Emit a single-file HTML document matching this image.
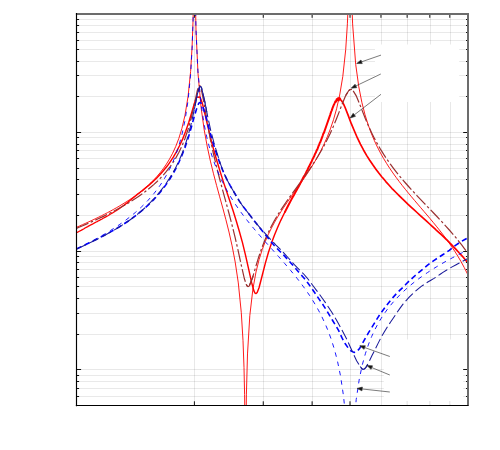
<!DOCTYPE html>
<html><head><meta charset="utf-8"><title>FRF</title>
<style>
html,body{margin:0;padding:0;background:#fff;}
body{width:500px;height:450px;overflow:hidden;font-family:"Liberation Sans",sans-serif;}
svg{display:block;}
</style></head><body>
<svg width="500" height="450" viewBox="0 0 500 450">
<rect x="0" y="0" width="500" height="450" fill="#fff"/>
<defs><clipPath id="c"><rect x="76.5" y="14.0" width="391.5" height="391.5"/></clipPath></defs>
<g stroke="rgba(0,0,0,0.09)" stroke-width="1" fill="none">
<line x1="194.50" y1="14.0" x2="194.50" y2="405.5"/>
<line x1="263.50" y1="14.0" x2="263.50" y2="405.5"/>
<line x1="312.50" y1="14.0" x2="312.50" y2="405.5"/>
<line x1="350.50" y1="14.0" x2="350.50" y2="405.5"/>
<line x1="381.50" y1="14.0" x2="381.50" y2="405.5"/>
<line x1="407.50" y1="14.0" x2="407.50" y2="405.5"/>
<line x1="430.50" y1="14.0" x2="430.50" y2="405.5"/>
<line x1="450.50" y1="14.0" x2="450.50" y2="405.5"/>
<line x1="76.5" y1="19.50" x2="468.0" y2="19.50" stroke="rgba(0,0,0,0.085)"/>
<line x1="76.5" y1="25.50" x2="468.0" y2="25.50" stroke="rgba(0,0,0,0.085)"/>
<line x1="76.5" y1="32.50" x2="468.0" y2="32.50" stroke="rgba(0,0,0,0.085)"/>
<line x1="76.5" y1="40.50" x2="468.0" y2="40.50" stroke="rgba(0,0,0,0.085)"/>
<line x1="76.5" y1="49.50" x2="468.0" y2="49.50" stroke="rgba(0,0,0,0.085)"/>
<line x1="76.5" y1="61.50" x2="468.0" y2="61.50" stroke="rgba(0,0,0,0.085)"/>
<line x1="76.5" y1="75.50" x2="468.0" y2="75.50" stroke="rgba(0,0,0,0.085)"/>
<line x1="76.5" y1="96.50" x2="468.0" y2="96.50" stroke="rgba(0,0,0,0.085)"/>
<line x1="76.5" y1="132.50" x2="468.0" y2="132.50"/>
<line x1="76.5" y1="137.50" x2="468.0" y2="137.50" stroke="rgba(0,0,0,0.085)"/>
<line x1="76.5" y1="144.50" x2="468.0" y2="144.50" stroke="rgba(0,0,0,0.085)"/>
<line x1="76.5" y1="150.50" x2="468.0" y2="150.50" stroke="rgba(0,0,0,0.085)"/>
<line x1="76.5" y1="158.50" x2="468.0" y2="158.50" stroke="rgba(0,0,0,0.085)"/>
<line x1="76.5" y1="168.50" x2="468.0" y2="168.50" stroke="rgba(0,0,0,0.085)"/>
<line x1="76.5" y1="179.50" x2="468.0" y2="179.50" stroke="rgba(0,0,0,0.085)"/>
<line x1="76.5" y1="194.50" x2="468.0" y2="194.50" stroke="rgba(0,0,0,0.085)"/>
<line x1="76.5" y1="215.50" x2="468.0" y2="215.50" stroke="rgba(0,0,0,0.085)"/>
<line x1="76.5" y1="251.50" x2="468.0" y2="251.50"/>
<line x1="76.5" y1="256.50" x2="468.0" y2="256.50" stroke="rgba(0,0,0,0.085)"/>
<line x1="76.5" y1="262.50" x2="468.0" y2="262.50" stroke="rgba(0,0,0,0.085)"/>
<line x1="76.5" y1="269.50" x2="468.0" y2="269.50" stroke="rgba(0,0,0,0.085)"/>
<line x1="76.5" y1="277.50" x2="468.0" y2="277.50" stroke="rgba(0,0,0,0.085)"/>
<line x1="76.5" y1="286.50" x2="468.0" y2="286.50" stroke="rgba(0,0,0,0.085)"/>
<line x1="76.5" y1="298.50" x2="468.0" y2="298.50" stroke="rgba(0,0,0,0.085)"/>
<line x1="76.5" y1="313.50" x2="468.0" y2="313.50" stroke="rgba(0,0,0,0.085)"/>
<line x1="76.5" y1="334.50" x2="468.0" y2="334.50" stroke="rgba(0,0,0,0.085)"/>
<line x1="76.5" y1="369.50" x2="468.0" y2="369.50"/>
<line x1="76.5" y1="375.50" x2="468.0" y2="375.50" stroke="rgba(0,0,0,0.085)"/>
<line x1="76.5" y1="381.50" x2="468.0" y2="381.50" stroke="rgba(0,0,0,0.085)"/>
<line x1="76.5" y1="388.50" x2="468.0" y2="388.50" stroke="rgba(0,0,0,0.085)"/>
<line x1="76.5" y1="396.50" x2="468.0" y2="396.50" stroke="rgba(0,0,0,0.085)"/>
</g>
<rect x="375" y="44.5" width="84.19999999999999" height="57.5" fill="#fff"/>
<rect x="383.8" y="339.5" width="79.39999999999998" height="65.0" fill="#fff"/>
<g clip-path="url(#c)" fill="none" stroke-linejoin="round">
<path d="M76.50,227.29 L79.60,225.95 L82.70,224.58 L85.80,223.19 L88.90,221.78 L92.00,220.34 L95.10,218.87 L98.20,217.37 L101.30,215.84 L104.40,214.27 L107.50,212.66 L110.60,211.01 L113.70,209.31 L116.80,207.56 L119.90,205.76 L123.00,203.89 L126.10,201.95 L129.20,199.94 L132.30,197.84 L135.40,195.65 L138.50,193.35 L141.60,190.94 L144.70,188.38 L147.80,185.66 L150.90,182.77 L154.00,179.66 L157.10,176.29 L160.20,172.63 L163.30,168.60 L166.40,164.12 L169.50,159.08 L172.60,153.31 L175.70,146.57 L178.80,138.49 L181.90,128.43 L185.00,115.22 L188.10,96.20 L190.60,71.55 L192.10,46.58 L193.00,21.59 L193.60,-6.80 L193.70,-13.60 L193.80,-16.00 L195.00,-16.00 L195.10,-13.11 L196.00,30.20 L198.00,73.41 L201.10,107.74 L204.20,129.89 L207.30,146.88 L210.40,161.12 L213.50,173.77 L216.60,185.52 L219.70,196.83 L222.80,208.09 L225.90,219.68 L229.00,232.05 L232.10,245.83 L235.20,262.08 L238.30,282.90 L241.30,312.73 L243.00,340.58 L244.00,367.62 L244.60,394.53 L245.10,435.50 L245.80,435.50 L245.90,434.96 L246.40,394.20 L247.50,353.93 L249.80,315.67 L252.90,288.97 L256.00,271.99 L259.10,259.53 L262.20,249.63 L265.30,241.39 L268.40,234.26 L271.50,227.93 L274.60,222.19 L277.70,216.88 L280.80,211.89 L283.90,207.15 L287.00,202.58 L290.10,198.12 L293.20,193.74 L296.30,189.38 L299.40,185.01 L302.50,180.59 L305.60,176.07 L308.70,171.41 L311.80,166.56 L314.90,161.46 L318.00,156.04 L321.10,150.22 L324.20,143.87 L327.30,136.84 L330.40,128.90 L333.50,119.72 L336.60,108.75 L339.70,95.00 L342.80,76.40 L345.70,49.74 L347.40,23.77 L348.50,-4.63 L348.80,-16.00 L351.10,-16.00 L351.20,-15.92 L352.60,23.88 L355.70,64.36 L358.80,86.85 L361.90,102.56 L365.00,114.70 L368.10,124.63 L371.20,133.08 L374.30,140.47 L377.40,147.06 L380.50,153.03 L383.60,158.52 L386.70,163.62 L389.80,168.41 L392.90,172.94 L396.00,177.26 L399.10,181.40 L402.20,185.41 L405.30,189.29 L408.40,193.09 L411.50,196.81 L414.60,200.49 L417.70,204.13 L420.80,207.75 L423.90,211.37 L427.00,215.00 L430.10,218.67 L433.20,222.38 L436.30,226.16 L439.40,230.02 L442.50,233.99 L445.60,238.09 L448.70,242.35 L451.80,246.80 L454.90,251.48 L458.00,256.44 L461.10,261.73 L464.20,267.43 L467.30,273.65 L468.00,275.14" stroke="#ff0000" stroke-width="0.9"/>
<path d="M76.50,232.55 L78.30,231.78 L81.10,230.38 L84.00,228.78 L84.60,228.30 L87.70,226.58 L88.80,225.92 L89.30,225.78 L90.30,225.14 L92.40,224.18 L93.50,223.42 L94.10,223.16 L96.20,222.02 L97.10,221.60 L98.40,220.81 L98.90,220.67 L100.20,219.95 L102.10,218.96 L102.70,218.55 L105.80,216.89 L107.90,215.72 L111.00,213.79 L111.50,213.43 L112.10,213.21 L115.20,211.22 L115.70,210.97 L118.80,208.94 L121.90,206.80 L125.00,204.54" stroke="#ff0000" stroke-width="1.3" stroke-linecap="round"/>
<path d="M125.00,204.54 L128.10,202.03 L131.20,199.44 L132.70,198.19 L135.80,195.69 L137.60,194.16 L138.50,193.62 L141.10,191.44 L142.20,190.83 L145.30,188.13 L148.40,185.69 L151.50,182.89 L154.60,179.98 L156.50,178.15 L159.60,175.09 L162.70,171.58 L165.80,167.76 L167.40,165.79 L170.50,161.29 L173.30,157.12 L176.40,151.87 L179.50,145.75 L182.60,139.12 L185.70,131.29 L188.80,122.27 L191.90,112.07 L195.00,101.48 L196.50,97.61 L196.90,97.15 L197.90,97.13 L198.40,97.22 L199.20,96.97 L199.60,97.05 L200.20,97.53 L202.10,102.44 L205.20,115.10 L208.30,128.46 L211.40,141.25 L214.50,152.74 L217.60,163.29 L220.70,173.34 L223.80,183.10 L226.90,192.31 L230.00,201.56 L233.10,210.85 L236.20,220.80 L239.30,231.19 L242.40,242.40 L245.50,255.05 L248.60,268.94 L251.70,282.92 L254.00,291.20 L255.00,293.03 L255.40,293.38 L255.90,293.50 L256.60,293.15 L257.30,292.22 L259.10,287.55 L262.20,275.51 L265.30,263.36 L268.40,252.50 L271.50,243.12 L274.60,234.73 L277.70,227.27 L280.80,220.32 L283.90,213.97 L285.00,211.83" stroke="#ff0000" stroke-width="1.45" stroke-linecap="round"/>
<path d="M285.00,211.83 L288.10,205.68 L291.20,199.87 L292.30,197.83 L294.00,194.89 L297.10,189.19 L297.60,188.18 L298.00,187.76 L301.10,181.71 L302.30,179.56 L304.10,176.05 L304.70,175.31 L305.30,174.06 L305.90,173.19 L306.60,171.27 L307.70,169.67 L308.40,167.66 L310.00,164.81 L310.70,163.17 L311.90,160.90 L312.50,159.25 L313.10,158.36 L313.70,157.05 L314.30,156.05 L314.90,154.16 L315.40,153.30 L316.10,151.97 L316.70,150.10 L316.80,149.99 L317.00,149.90 L317.50,149.03 L318.60,145.82 L319.10,144.98 L319.70,143.00 L320.30,142.18 L322.80,135.30 L323.30,133.69 L323.90,132.87 L327.00,124.01 L330.10,115.10 L331.20,111.61 L331.70,110.59 L332.60,107.87 L333.90,104.70 L334.40,103.70 L334.90,102.63 L335.30,101.55 L335.40,101.51 L335.80,101.73 L335.90,101.83 L336.40,99.97 L336.50,99.41 L337.10,98.87 L337.40,99.48 L337.70,100.30 L338.30,98.14 L338.50,98.92" stroke="#ff0000" stroke-width="2.0" stroke-linecap="round"/>
<path d="M338.50,98.92 L338.90,100.51 L339.50,97.89 L339.90,98.30 L340.00,98.34 L340.60,99.65 L340.90,100.17 L341.20,100.47 L341.30,100.46 L341.70,100.91 L342.40,101.88 L343.70,104.39 L345.00,107.27 L348.10,115.11 L351.20,123.43 L354.30,130.77 L357.40,137.98 L360.40,144.14 L363.50,149.97 L366.60,155.36 L369.70,160.21 L372.80,164.83 L375.90,169.15 L379.00,173.30 L382.10,177.25 L382.70,177.82 L385.80,181.57 L388.90,185.04 L392.00,188.55 L392.90,189.39 L396.00,192.50 L399.10,195.59 L402.20,198.68 L405.30,201.63 L408.10,204.41 L410.80,206.88 L413.90,209.64 L417.00,212.50 L420.10,215.32 L423.20,218.16 L426.30,220.88 L429.40,223.75 L432.50,226.62 L435.30,229.15 L435.70,229.61 L436.80,230.53 L439.90,233.47 L441.60,234.99 L444.70,237.98 L445.60,238.83 L446.80,239.92 L446.90,239.96 L450.00,243.20 L450.50,243.59 L453.60,246.86 L456.00,249.36 L459.10,252.79 L462.20,256.07 L465.30,259.69 L468.00,262.92" stroke="#ff0000" stroke-width="1.7" stroke-linecap="round"/>
<path d="M76.50,228.35 L79.60,227.05 L82.70,225.73 L85.80,224.39 L88.90,223.03 L92.00,221.65 L95.10,220.24 L98.20,218.81 L101.30,217.35 L104.40,215.85 L107.50,214.33 L110.60,212.76 L113.70,211.16 L116.80,209.52 L119.90,207.83 L123.00,206.09 L126.10,204.30 L129.20,202.44 L132.30,200.51 L135.40,198.51 L138.50,196.43 L141.60,194.26 L144.70,191.97 L147.80,189.57 L150.90,187.04 L154.00,184.35 L157.10,181.48 L160.20,178.40 L163.30,175.07 L166.40,171.45 L169.50,167.48 L172.60,163.08 L175.70,158.15 L178.80,152.55 L181.90,146.07 L185.00,138.44 L188.10,129.27 L191.20,118.02 L194.30,104.34 L197.40,90.19 L198.60,86.58 L199.20,85.70 L199.50,85.53 L199.80,85.57 L200.20,85.94 L201.00,87.74 L204.10,103.45 L207.20,122.21 L210.30,138.95 L213.40,153.57 L216.50,166.65 L219.60,178.75 L222.70,190.29 L225.80,201.61 L228.90,213.03 L232.00,224.86 L235.10,237.40 L238.20,250.91 L241.30,265.25 L244.40,278.76 L246.40,284.76 L247.40,286.25 L248.00,286.58 L248.60,286.48 L249.50,285.57 L252.60,277.58 L255.70,266.90 L258.80,256.70 L261.90,247.69 L265.00,239.80 L268.10,232.81 L271.20,226.53 L274.30,220.80 L277.40,215.50 L280.50,210.53 L283.60,205.81 L286.70,201.28 L289.80,196.87 L292.90,192.56 L296.00,188.29 L299.10,184.04 L302.20,179.76 L305.30,175.41 L308.40,170.98 L311.50,166.41 L314.60,161.67 L317.70,156.72 L320.80,151.50 L323.90,145.95 L327.00,140.02 L330.10,133.64 L333.20,126.74 L336.30,119.29 L339.40,111.35 L342.50,103.23 L345.60,95.77 L348.70,90.60 L350.20,89.52 L351.40,89.47 L353.00,90.53 L356.10,95.58 L359.20,102.91 L362.30,110.89 L365.40,118.68 L368.50,125.97 L371.60,132.70 L374.70,138.90 L377.80,144.62 L380.90,149.93 L384.00,154.88 L387.10,159.54 L390.20,163.95 L393.30,168.13 L396.40,172.13 L399.50,175.96 L402.60,179.67 L405.70,183.26 L408.80,186.75 L411.90,190.17 L415.00,193.52 L418.10,196.82 L421.20,200.09 L424.30,203.33 L427.40,206.56 L430.50,209.78 L433.60,213.02 L436.70,216.27 L439.80,219.56 L442.90,222.90 L446.00,226.29 L449.10,229.76 L452.20,233.32 L455.30,236.98 L458.40,240.77 L461.50,244.71 L464.60,248.83 L467.70,253.16 L468.00,253.59" stroke="#993030" stroke-width="1.2" stroke-dasharray="13 2.5 2.5 2.5" stroke-dashoffset="0"/>
<path d="M246.30,284.54 L247.30,286.16 L247.90,286.56 L248.50,286.52 L249.30,285.84 L252.40,278.23 L253.20,275.57 M345.80,95.35 L348.80,90.50 L350.30,89.49 L351.50,89.50 L351.90,89.67" stroke="#993030" stroke-width="1.2"/>
<path d="M76.50,248.94 L79.60,247.44 L82.70,245.91 L85.80,244.35 L88.90,242.75 L92.00,241.12 L95.10,239.45 L98.20,237.74 L101.30,235.99 L104.40,234.19 L107.50,232.33 L110.60,230.42 L113.70,228.45 L116.80,226.42 L119.90,224.31 L123.00,222.12 L126.10,219.85 L129.20,217.48 L132.30,215.01 L135.40,212.42 L138.50,209.70 L141.60,206.83 L144.70,203.80 L147.80,200.58 L150.90,197.15 L154.00,193.47 L157.10,189.49 L160.20,185.18 L163.30,180.45 L166.40,175.23 L169.50,169.38 L172.60,162.75 L175.70,155.08 L178.80,145.99 L181.90,134.85 L185.00,120.45 L188.10,100.15 L190.60,74.37 L192.10,48.69 L193.10,19.45 L193.80,-16.00 L195.00,-16.00 L195.10,-12.53 L196.00,30.29 L197.90,70.90 L201.00,104.00 L204.10,124.26 L207.20,139.00 L210.30,150.64 L213.40,160.31 L216.50,168.62 L219.60,175.94 L222.70,182.49 L225.80,188.46 L228.90,193.95 L232.00,199.06 L235.10,203.86 L238.20,208.39 L241.30,212.70 L244.40,216.83 L247.50,220.81 L250.60,224.66 L253.70,228.40 L256.80,232.05 L259.90,235.64 L263.00,239.17 L266.10,242.66 L269.20,246.12 L272.30,249.57 L275.40,253.02 L278.50,256.49 L281.60,259.98 L284.70,263.51 L287.80,267.10 L290.90,270.76 L294.00,274.51 L297.10,278.36 L300.20,282.35 L303.30,286.49 L306.40,290.82 L309.50,295.36 L312.60,300.18 L315.70,305.31 L318.80,310.83 L321.90,316.83 L325.00,323.43 L328.10,330.80 L331.20,339.18 L334.30,348.96 L337.40,360.76 L340.50,375.76 L343.60,396.53 L346.20,423.74 L347.00,435.50 L350.10,435.50 L353.00,435.50 L353.10,434.95 L356.20,399.59 L359.30,379.01 L362.40,364.48 L365.50,353.25 L368.60,344.11 L371.70,336.40 L374.80,329.74 L377.90,323.87 L381.00,318.63 L384.10,313.89 L387.20,309.56 L390.30,305.58 L393.40,301.89 L396.50,298.44 L399.60,295.22 L402.70,292.18 L405.80,289.31 L408.90,286.59 L412.00,283.99 L415.10,281.52 L418.20,279.14 L421.30,276.87 L424.40,274.68 L427.50,272.57 L430.60,270.53 L433.70,268.56 L436.80,266.65 L439.90,264.79 L443.00,262.99 L446.10,261.23 L449.20,259.52 L452.30,257.85 L455.40,256.22 L458.50,254.62 L461.60,253.06 L464.70,251.53 L467.80,250.02 L468.00,249.93" stroke="#0000ff" stroke-width="0.9" stroke-dasharray="4.5 5" stroke-dashoffset="0"/>
<path d="M76.50,249.05 L79.60,247.52 L82.70,246.01 L85.80,244.49 L88.90,242.98 L92.00,241.46 L95.10,239.92 L98.20,238.37 L101.30,236.80 L104.40,235.19 L107.50,233.55 L110.60,231.86 L113.70,230.13 L116.80,228.34 L119.90,226.48 L123.00,224.55 L126.10,222.53 L129.20,220.43 L132.30,218.22 L135.40,215.89 L138.50,213.46 L141.60,210.92 L144.70,208.26 L147.80,205.45 L150.90,202.48 L154.00,199.32 L157.10,195.94 L160.20,192.32 L163.30,188.40 L166.40,184.15 L169.50,179.51 L172.60,174.41 L175.70,168.78 L178.80,162.51 L181.90,155.45 L185.00,147.42 L188.10,138.22 L191.20,127.73 L194.30,116.34 L197.40,106.18 L198.90,103.22 L199.70,102.51 L200.30,102.44 L201.00,102.86 L202.30,104.99 L205.40,114.82 L208.50,126.78 L211.60,138.08 L214.70,148.12 L217.80,157.31 L220.90,165.94 L224.00,173.50 L227.10,179.84 L230.20,185.57 L233.30,190.91 L236.40,196.26 L239.50,201.35 L242.60,205.75 L245.70,209.80 L248.80,213.83 L251.90,217.85 L255.00,221.80 L258.10,225.68 L261.20,229.60 L264.30,233.51 L267.40,237.37 L270.50,241.13 L273.60,244.74 L276.70,248.14 L279.80,251.21 L282.90,254.28 L286.00,257.59 L289.10,260.96 L292.20,264.45 L295.30,268.09 L298.40,271.72 L301.50,275.15 L304.60,278.84 L307.70,282.83 L310.80,287.01 L313.90,291.48 L317.00,296.11 L320.10,300.62 L323.20,305.07 L326.30,309.94 L329.40,315.17 L332.50,320.26 L335.60,325.31 L338.70,330.61 L341.80,337.41 L344.90,343.34 L348.00,347.67 L351.10,351.03 L354.00,352.38 L356.30,352.10 L359.40,348.79 L362.50,343.30 L365.60,337.69 L368.70,332.35 L371.80,327.46 L374.90,322.41 L378.00,317.34 L381.10,312.70 L384.20,308.49 L387.30,304.43 L390.40,300.53 L393.50,296.87 L396.60,293.48 L399.70,290.42 L402.80,287.41 L405.90,284.27 L409.00,281.19 L412.10,278.30 L415.20,275.52 L418.30,272.87 L421.40,270.30 L424.50,267.76 L427.60,265.19 L430.70,262.74 L433.80,260.56 L436.90,258.50 L440.00,256.48 L443.10,254.49 L446.20,252.50 L449.30,250.38 L452.40,247.81 L455.50,245.35 L458.60,243.28 L461.70,241.31 L464.80,239.48 L467.90,237.84 L468.00,237.78" stroke="#0000ff" stroke-width="1.6" stroke-dasharray="5.5 3.5" stroke-dashoffset="0"/>
<path d="M76.50,249.03 L79.60,247.61 L82.70,246.17 L85.80,244.72 L88.90,243.25 L92.00,241.76 L95.10,240.24 L98.20,238.69 L101.30,237.11 L104.40,235.48 L107.50,233.82 L110.60,232.10 L113.70,230.33 L116.80,228.51 L119.90,226.61 L123.00,224.65 L126.10,222.60 L129.20,220.46 L132.30,218.23 L135.40,215.89 L138.50,213.42 L141.60,210.79 L144.70,208.00 L147.80,205.06 L150.90,201.93 L154.00,198.62 L157.10,195.11 L160.20,191.36 L163.30,187.36 L166.40,183.05 L169.50,178.39 L172.60,173.30 L175.70,167.63 L178.80,161.26 L181.90,153.99 L185.00,145.57 L188.10,135.62 L191.20,123.69 L194.30,109.40 L197.40,94.12 L199.10,88.00 L199.80,86.73 L200.20,86.43 L200.50,86.41 L200.90,86.69 L201.60,87.92 L204.70,101.07 L207.80,117.11 L210.90,131.16 L214.00,142.94 L217.10,153.27 L220.20,163.08 L223.30,171.72 L226.40,178.57 L229.50,184.34 L232.60,189.71 L235.70,195.09 L238.80,200.24 L241.90,204.83 L245.00,208.89 L248.10,212.93 L251.20,217.01 L254.30,220.97 L257.40,224.71 L260.50,228.31 L263.60,231.80 L266.70,235.21 L269.80,238.54 L272.90,241.81 L276.00,245.02 L279.10,248.07 L282.20,251.21 L285.30,254.57 L288.40,258.01 L291.50,261.46 L294.60,264.84 L297.70,268.01 L300.80,271.07 L303.90,274.25 L307.00,277.80 L310.10,281.81 L313.20,286.02 L316.30,290.11 L319.40,294.20 L322.50,298.47 L325.60,302.90 L328.70,307.45 L331.80,312.23 L334.90,317.39 L338.00,322.81 L341.10,328.41 L344.20,334.30 L347.30,340.35 L350.40,347.16 L353.50,354.14 L356.60,360.66 L359.70,365.73 L361.70,368.58 L362.90,369.28 L364.30,368.98 L365.80,367.60 L368.90,362.06 L372.00,355.59 L375.10,349.43 L378.20,343.11 L381.30,336.99 L384.40,331.79 L387.50,326.72 L390.60,321.99 L393.70,317.49 L396.80,312.78 L399.90,308.33 L403.00,304.18 L406.10,300.55 L409.20,297.21 L412.30,294.14 L415.40,291.26 L418.50,288.55 L421.60,286.18 L424.70,284.07 L427.80,282.06 L430.90,280.21 L434.00,278.37 L437.10,276.40 L440.20,274.28 L443.30,272.18 L446.40,270.20 L449.50,268.39 L452.60,266.66 L455.70,264.96 L458.80,263.28 L461.90,261.63 L465.00,260.02 L468.00,258.48" stroke="#1a1a99" stroke-width="1.05" stroke-dasharray="10.5 3.5" stroke-dashoffset="0"/>
<path d="M194.40,108.90 L197.50,93.68 L199.10,88.00 L199.80,86.73 L200.20,86.43 L200.50,86.41 L200.90,86.69 L201.60,87.92 L204.70,101.07 L206.80,112.08 M360.20,366.51 L361.90,368.75 L363.00,369.30 L364.40,368.92 L366.00,367.32 L367.60,364.64" stroke="#1a1a99" stroke-width="1.05"/>
</g>
<g stroke="#333" stroke-width="0.65" fill="#111">
<line x1="381.0" y1="55.1" x2="361.61" y2="61.80"/><polygon points="356.70,63.50 360.99,60.01 362.24,63.60"/>
<line x1="380.8" y1="74.0" x2="355.89" y2="85.95"/><polygon points="351.20,88.20 355.07,84.24 356.71,87.66"/>
<line x1="381.0" y1="94.3" x2="354.32" y2="114.83"/><polygon points="350.20,118.00 353.16,113.32 355.48,116.33"/>
<line x1="389.8" y1="356.5" x2="364.70" y2="347.55"/><polygon points="359.80,345.80 365.34,345.76 364.06,349.34"/>
<line x1="389.8" y1="375.0" x2="371.81" y2="367.58"/><polygon points="367.00,365.60 372.53,365.83 371.08,369.34"/>
<line x1="389.8" y1="392.0" x2="362.17" y2="388.97"/><polygon points="357.00,388.40 362.38,387.08 361.96,390.86"/>
</g>
<g stroke="#111" stroke-width="1" fill="none">
<line x1="194.40" y1="14.0" x2="194.40" y2="17.8"/>
<line x1="194.40" y1="405.5" x2="194.40" y2="401.3"/>
<line x1="263.25" y1="14.0" x2="263.25" y2="17.8"/>
<line x1="263.25" y1="405.5" x2="263.25" y2="401.3"/>
<line x1="312.11" y1="14.0" x2="312.11" y2="17.8"/>
<line x1="312.11" y1="405.5" x2="312.11" y2="401.3"/>
<line x1="350.00" y1="14.0" x2="350.00" y2="17.8"/>
<line x1="350.00" y1="405.5" x2="350.00" y2="401.3"/>
<line x1="380.96" y1="14.0" x2="380.96" y2="17.8"/>
<line x1="407.13" y1="14.0" x2="407.13" y2="17.8"/>
<line x1="407.13" y1="405.5" x2="407.13" y2="401.0" stroke="#e2e2e2"/>
<line x1="429.81" y1="14.0" x2="429.81" y2="17.8"/>
<line x1="429.81" y1="405.5" x2="429.81" y2="401.0" stroke="#e2e2e2"/>
<line x1="449.81" y1="14.0" x2="449.81" y2="17.8"/>
<line x1="449.81" y1="405.5" x2="449.81" y2="401.0" stroke="#e2e2e2"/>
<line x1="76.5" y1="19.50" x2="79.1" y2="19.50"/>
<line x1="468.0" y1="19.50" x2="466.0" y2="19.50"/>
<line x1="76.5" y1="25.50" x2="79.1" y2="25.50"/>
<line x1="468.0" y1="25.50" x2="466.0" y2="25.50"/>
<line x1="76.5" y1="32.50" x2="79.1" y2="32.50"/>
<line x1="468.0" y1="32.50" x2="466.0" y2="32.50"/>
<line x1="76.5" y1="40.50" x2="79.1" y2="40.50"/>
<line x1="468.0" y1="40.50" x2="466.0" y2="40.50"/>
<line x1="76.5" y1="49.50" x2="79.1" y2="49.50"/>
<line x1="468.0" y1="49.50" x2="466.0" y2="49.50"/>
<line x1="76.5" y1="61.50" x2="79.1" y2="61.50"/>
<line x1="468.0" y1="61.50" x2="466.0" y2="61.50"/>
<line x1="76.5" y1="75.50" x2="79.1" y2="75.50"/>
<line x1="468.0" y1="75.50" x2="466.0" y2="75.50"/>
<line x1="76.5" y1="96.50" x2="79.1" y2="96.50"/>
<line x1="468.0" y1="96.50" x2="466.0" y2="96.50"/>
<line x1="76.5" y1="132.50" x2="81.1" y2="132.50"/>
<line x1="468.0" y1="132.50" x2="463.2" y2="132.50"/>
<line x1="76.5" y1="137.50" x2="79.1" y2="137.50"/>
<line x1="468.0" y1="137.50" x2="466.0" y2="137.50"/>
<line x1="76.5" y1="144.50" x2="79.1" y2="144.50"/>
<line x1="468.0" y1="144.50" x2="466.0" y2="144.50"/>
<line x1="76.5" y1="150.50" x2="79.1" y2="150.50"/>
<line x1="468.0" y1="150.50" x2="466.0" y2="150.50"/>
<line x1="76.5" y1="158.50" x2="79.1" y2="158.50"/>
<line x1="468.0" y1="158.50" x2="466.0" y2="158.50"/>
<line x1="76.5" y1="168.50" x2="79.1" y2="168.50"/>
<line x1="468.0" y1="168.50" x2="466.0" y2="168.50"/>
<line x1="76.5" y1="179.50" x2="79.1" y2="179.50"/>
<line x1="468.0" y1="179.50" x2="466.0" y2="179.50"/>
<line x1="76.5" y1="194.50" x2="79.1" y2="194.50"/>
<line x1="468.0" y1="194.50" x2="466.0" y2="194.50"/>
<line x1="76.5" y1="215.50" x2="79.1" y2="215.50"/>
<line x1="468.0" y1="215.50" x2="466.0" y2="215.50"/>
<line x1="76.5" y1="251.50" x2="81.1" y2="251.50"/>
<line x1="468.0" y1="251.50" x2="463.2" y2="251.50"/>
<line x1="76.5" y1="256.50" x2="79.1" y2="256.50"/>
<line x1="468.0" y1="256.50" x2="466.0" y2="256.50"/>
<line x1="76.5" y1="262.50" x2="79.1" y2="262.50"/>
<line x1="468.0" y1="262.50" x2="466.0" y2="262.50"/>
<line x1="76.5" y1="269.50" x2="79.1" y2="269.50"/>
<line x1="468.0" y1="269.50" x2="466.0" y2="269.50"/>
<line x1="76.5" y1="277.50" x2="79.1" y2="277.50"/>
<line x1="468.0" y1="277.50" x2="466.0" y2="277.50"/>
<line x1="76.5" y1="286.50" x2="79.1" y2="286.50"/>
<line x1="468.0" y1="286.50" x2="466.0" y2="286.50"/>
<line x1="76.5" y1="298.50" x2="79.1" y2="298.50"/>
<line x1="468.0" y1="298.50" x2="466.0" y2="298.50"/>
<line x1="76.5" y1="313.50" x2="79.1" y2="313.50"/>
<line x1="468.0" y1="313.50" x2="466.0" y2="313.50"/>
<line x1="76.5" y1="334.50" x2="79.1" y2="334.50"/>
<line x1="468.0" y1="334.50" x2="466.0" y2="334.50"/>
<line x1="76.5" y1="369.50" x2="81.1" y2="369.50"/>
<line x1="468.0" y1="369.50" x2="463.2" y2="369.50"/>
<line x1="76.5" y1="375.50" x2="79.1" y2="375.50"/>
<line x1="468.0" y1="375.50" x2="466.0" y2="375.50"/>
<line x1="76.5" y1="381.50" x2="79.1" y2="381.50"/>
<line x1="468.0" y1="381.50" x2="466.0" y2="381.50"/>
<line x1="76.5" y1="388.50" x2="79.1" y2="388.50"/>
<line x1="468.0" y1="388.50" x2="466.0" y2="388.50"/>
<line x1="76.5" y1="396.50" x2="79.1" y2="396.50"/>
<line x1="468.0" y1="396.50" x2="466.0" y2="396.50"/>
</g>
<g stroke="#6c6c6c" stroke-width="2" fill="none">
<line x1="75.9" y1="14.0" x2="469.0" y2="14.0"/>
<line x1="468.0" y1="14.0" x2="468.0" y2="406.1"/>
</g>
<g stroke="#000" stroke-width="1.15" fill="none">
<line x1="76.5" y1="13.0" x2="76.5" y2="406.15"/>
<line x1="75.85" y1="405.5" x2="468.4" y2="405.5"/>
</g>
</svg>
</body></html>
